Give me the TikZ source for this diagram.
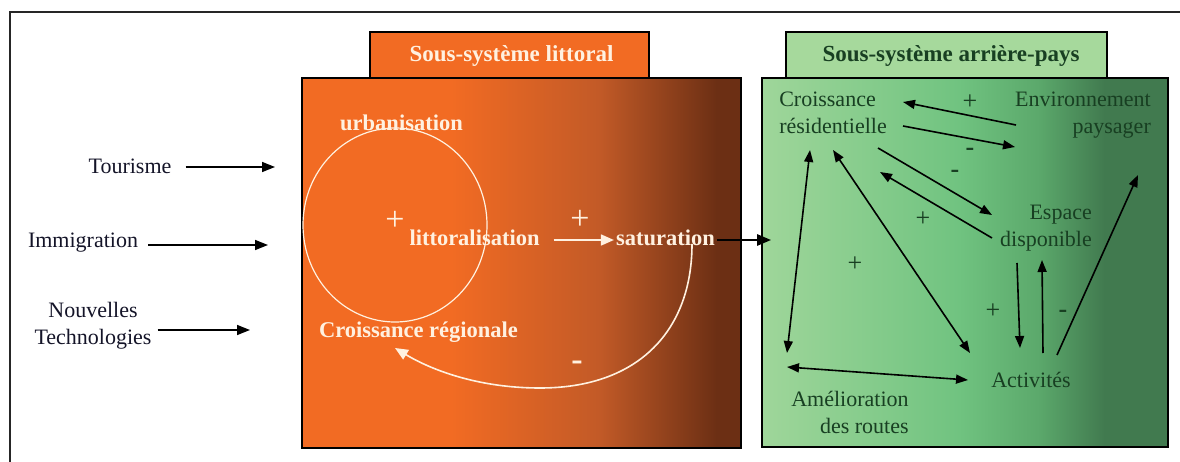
\documentclass[tikz,border=0pt]{standalone}
\usepackage{fontspec}
\setmainfont{Liberation Serif}
\usetikzlibrary{arrows.meta,shapes.geometric}

% palette
\definecolor{orA}{HTML}{F26B23}
\definecolor{orB}{HTML}{C25A27}
\definecolor{orC}{HTML}{6C2F14}
\definecolor{grA}{HTML}{9FD69A}
\definecolor{grB}{HTML}{70C380}
\definecolor{grC}{HTML}{5BA86B}
\definecolor{grD}{HTML}{417A4F}
\definecolor{grTab}{HTML}{A6D99C}
\definecolor{cream}{HTML}{FFF1E0}
\definecolor{grText}{HTML}{183F22}
\definecolor{inkText}{HTML}{141428}

\begin{document}
\begin{tikzpicture}[x=1pt,y=-1pt,
  every node/.style={inner sep=0pt,font=\fontsize{22}{27}\selectfont},
  tab/.style={draw=black,line width=1.6pt},
  panel/.style={draw=black,line width=1.8pt},
  boldlbl/.style={text=cream,font=\fontsize{22.5}{27}\selectfont\bfseries},
  titlelbl/.style={font=\fontsize{23}{27}\selectfont\bfseries},
  greenlbl/.style={text=grText},
  inlbl/.style={text=inkText},
  sign/.style={font=\fontsize{26}{27}\selectfont},
  bigsign/.style={text=cream,font=\fontsize{34}{34}\selectfont},
  inarrow/.style={line width=1.5pt,-{Triangle[length=13pt,width=10pt]}},
  whitearrow/.style={draw=cream,line width=1.6pt,-{Triangle[length=13pt,width=11pt]}},
  grarrow/.style={line width=1.6pt,-{Triangle[length=12pt,width=9pt]}},
  grdouble/.style={line width=1.6pt,{Triangle[length=12pt,width=9pt]}-{Triangle[length=12pt,width=9pt]}}
]
\useasboundingbox (0,0) rectangle (1180,462);

% outer frame (open to the right and bottom)
\draw[line width=2.2pt,black!85] (10,462) -- (10,12) -- (1180,12);

% tabs
\node[tab,fill=orA,minimum width=279pt,minimum height=46pt] (ltab) at (509.5,55) {};
\node[tab,fill=grTab,minimum width=321pt,minimum height=46pt] (gtab) at (946.5,55) {};

% coastal panel background
\fill[orA] (302,78) rectangle (452,448);
\shade[left color=orA,right color=orB] (451,78) rectangle (600,448);
\shade[left color=orB,right color=orC] (599,78) rectangle (717,448);
\fill[orC] (716,78) rectangle (741,448);
\node[panel,minimum width=439pt,minimum height=370pt] (litbox) at (521.5,263) {};

% hinterland panel background
\shade[left color=grA,right color=grB] (762,78) rectangle (960,447);
\shade[left color=grB,right color=grC] (959,78) rectangle (1040,447);
\shade[left color=grC,right color=grD] (1039,78) rectangle (1105,447);
\fill[grD] (1104,78) rectangle (1168,447);
\node[panel,minimum width=406pt,minimum height=369pt] (grbox) at (965,262.5) {};

% titles
\node[titlelbl,text=cream] (ltitle) at (511.5,56) {Sous-système littoral};
\node[titlelbl,text=grText] (gtitle) at (951,56) {Sous-système arrière-pays};

% external drivers
\node[inlbl] (tour) at (130,166) {Tourisme};
\node[inlbl] (immi) at (83,243) {Immigration};
\node[inlbl,align=center] (tech) at (93,326) {Nouvelles\\Technologies};
\coordinate (tourEnd) at (275,167);
\coordinate (immiEnd) at (268,245);
\coordinate (techEnd) at (250,330);
\draw[inarrow] ([shift={(14,1)}]tour.east) -- (tourEnd);
\draw[inarrow] ([shift={(10,2)}]immi.east) -- (immiEnd);
\draw[inarrow] ([shift={(6,4)}]tech.east) -- (techEnd);

% coastal sub-system
\node[draw=cream,line width=1.2pt,ellipse,minimum width=184pt,minimum height=194pt] (loop) at (395,225) {};
\node[boldlbl] (urb) at (401.5,123) {urbanisation};
\node[boldlbl] (litt) at (474.5,238) {littoralisation};
\node[boldlbl] (sat) at (665.5,238) {saturation};
\node[boldlbl] (creg) at (418.5,332) {Croissance régionale};
\node[bigsign] (lp1) at (395,221) {+};
\node[bigsign] (lp2) at (580,220) {+};
\node[bigsign,font=\fontsize{34}{34}\selectfont\bfseries] (lm1) at (577,366) {-};

\draw[whitearrow] ([shift={(14,2)}]litt.east) -- ([shift={(-2,2)}]sat.west);
\draw[whitearrow] ([shift={(26.5,6)}]sat.center)
  .. controls +(0,85) and +(100,0) .. (540,388)
  .. controls +(-70,0) and +(28,17) .. ([shift={(-23.5,16)}]creg.center);

% link between the sub-systems
\draw[line width=2.6pt,-{Triangle[length=14pt,width=11pt]}] ([shift={(2,2)}]sat.east) -- ([shift={(10,-22.5)}]grbox.west);

% hinterland sub-system
\node[greenlbl,align=left] (crois) at (833,113) {Croissance\\résidentielle};
\node[greenlbl,align=right] (env) at (1083,115) {Environnement\\paysager};
\node[greenlbl,align=right] (esp) at (1046,228) {Espace\\disponible};
\node[greenlbl] (act) at (1031,380) {Activités};
\node[greenlbl,align=right] (amel) at (850,412) {Amélioration\\des routes};

\draw[grarrow] ([shift={(-67,10)}]env.center) -- ([shift={(70,-11)}]crois.center);
\draw[grarrow] ([shift={(70,13)}]crois.center) -- ([shift={(-68,32)}]env.center);
\draw[grarrow] ([shift={(45,35)}]crois.center) -- ([shift={(-54,-13)}]esp.center);
\draw[grarrow] ([shift={(-54,10)}]esp.center) -- ([shift={(47,59)}]crois.center);
\draw[grdouble] ([shift={(-23,37)}]crois.center) -- ([shift={(-63,-59)}]amel.center);
\draw[grdouble] ([shift={(0,37)}]crois.center) -- ([shift={(-61,-27)}]act.center);
\draw[grdouble] ([shift={(-63,-45)}]amel.center) -- ([shift={(-63,0)}]act.center);
\draw[grarrow] ([shift={(-29,35)}]esp.center) -- ([shift={(-11,-32)}]act.center);
\draw[grarrow] ([shift={(12,-27)}]act.center) -- ([shift={(-4,32)}]esp.center);
\draw[grarrow] ([shift={(26,-25)}]act.center) -- ([shift={(55,60)}]env.center);

\node[sign,greenlbl] (gp1) at (970,102) {+};
\node[sign,greenlbl,font=\fontsize{26}{27}\selectfont\bfseries] (gm1) at (970,152) {-};
\node[sign,greenlbl,font=\fontsize{26}{27}\selectfont\bfseries] (gm2) at (955,174) {-};
\node[sign,greenlbl] (gp2) at (923,219) {+};
\node[sign,greenlbl] (gp3) at (855,264) {+};
\node[sign,greenlbl] (gp4) at (993,311) {+};
\node[sign,greenlbl,font=\fontsize{26}{27}\selectfont\bfseries] (gm3) at (1063,314) {-};
\end{tikzpicture}
\end{document}
